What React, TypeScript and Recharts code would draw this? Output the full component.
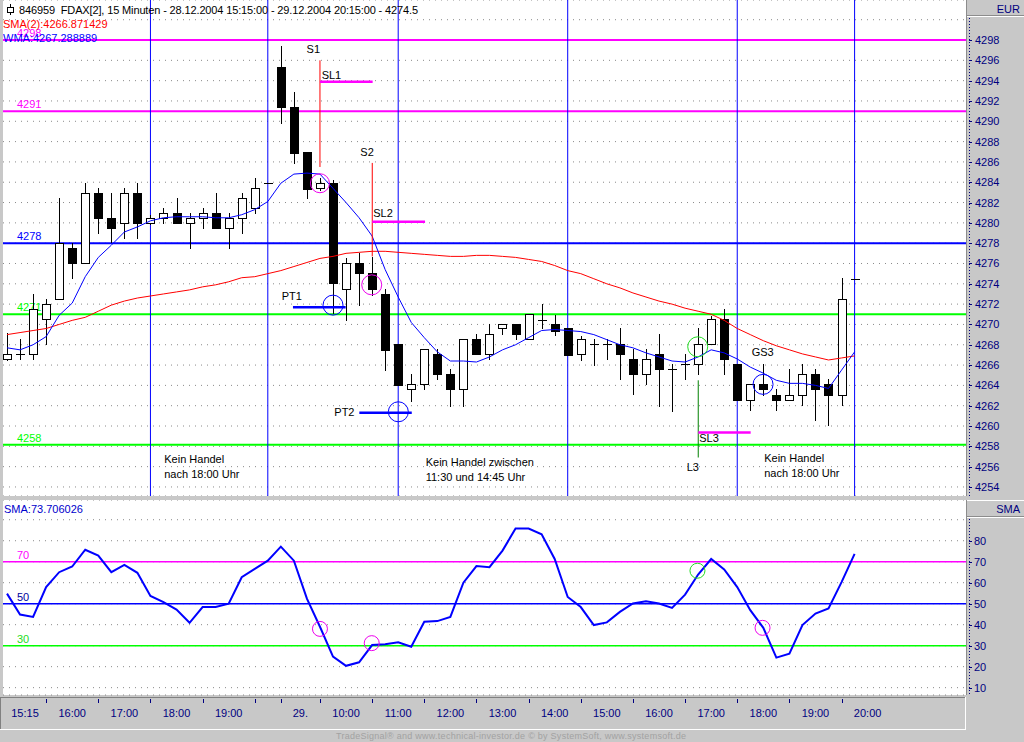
import React from 'react';
import {
  ComposedChart,
  Bar,
  Line,
  XAxis,
  YAxis,
  CartesianGrid,
  ReferenceLine,
  ReferenceDot,
} from 'recharts';

// ---------- data ----------
const opens = [
  4266.6, 4267.1, 4267.1, 4270.5, 4272.5, 4277.5, 4276.0, 4282.9, 4280.5, 4280.0,
  4282.9, 4280.0, 4280.5, 4281.0, 4280.0, 4280.5, 4281.0, 4279.5, 4280.5, 4281.5,
  4283.9, 4295.3, 4291.4, 4287.0, 4283.4, 4283.9, 4273.5, 4276.0, 4275.1, 4273.0,
  4268.1, 4263.6, 4264.1, 4267.1, 4265.1, 4263.6, 4268.6, 4267.1, 4269.6, 4270.0,
  4268.6, 4270.4, 4270.0, 4269.6, 4267.1, 4268.1, 4268.1, 4268.1, 4266.6, 4265.1,
  4267.1, 4265.6, 4266.1, 4266.1, 4268.1, 4270.5, 4266.1, 4262.6, 4264.1, 4263.1,
  4262.6, 4263.1, 4265.1, 4264.1, 4263.1, 4274.5,
];
const highs = [
  4269.2, 4268.6, 4273.0, 4272.5, 4282.4, 4278.0, 4283.9, 4283.4, 4282.9, 4283.4,
  4283.9, 4280.8, 4281.5, 4282.4, 4281.0, 4281.5, 4282.9, 4281.0, 4282.9, 4284.4,
  4283.9, 4297.4, 4292.9, 4287.0, 4284.4, 4284.2, 4276.5, 4277.0, 4276.6, 4273.5,
  4268.1, 4265.1, 4267.6, 4267.6, 4265.6, 4268.6, 4269.1, 4270.0, 4270.0, 4270.0,
  4271.0, 4272.0, 4270.9, 4269.6, 4268.9, 4268.6, 4268.6, 4269.6, 4267.6, 4267.6,
  4269.1, 4266.1, 4267.1, 4269.6, 4270.8, 4271.5, 4266.1, 4264.1, 4266.1, 4263.6,
  4265.6, 4266.1, 4265.6, 4264.6, 4274.6, 4274.5,
];
const lows = [
  4266.5, 4266.6, 4266.6, 4268.1, 4272.5, 4274.6, 4276.0, 4279.0, 4278.1, 4278.5,
  4278.5, 4279.9, 4280.0, 4280.0, 4277.5, 4279.5, 4279.5, 4277.5, 4279.0, 4281.0,
  4283.9, 4289.8, 4285.9, 4282.4, 4283.2, 4271.1, 4270.4, 4271.9, 4272.9, 4265.5,
  4264.0, 4262.5, 4263.6, 4264.6, 4262.0, 4262.0, 4267.1, 4266.6, 4269.1, 4268.6,
  4268.6, 4269.6, 4269.0, 4267.0, 4266.5, 4266.0, 4266.6, 4264.6, 4263.2, 4264.1,
  4262.0, 4261.5, 4264.6, 4265.1, 4268.1, 4265.1, 4262.6, 4261.6, 4263.1, 4261.6,
  4262.6, 4262.1, 4260.6, 4260.1, 4262.1, 4274.5,
];
const closes = [
  4267.1, 4267.1, 4271.5, 4272.0, 4278.0, 4276.0, 4282.9, 4280.5, 4279.5, 4282.9,
  4280.0, 4280.5, 4281.0, 4280.0, 4280.5, 4281.0, 4279.5, 4280.5, 4282.4, 4283.4,
  4283.9, 4291.4, 4286.9, 4283.3, 4283.9, 4274.1, 4276.0, 4275.1, 4273.5, 4267.5,
  4264.0, 4264.1, 4267.6, 4265.1, 4263.6, 4268.6, 4267.1, 4269.1, 4270.0, 4269.1,
  4271.0, 4270.4, 4269.4, 4267.0, 4268.6, 4268.1, 4268.1, 4267.1, 4265.1, 4266.6,
  4265.6, 4265.6, 4266.1, 4268.1, 4270.5, 4266.6, 4262.6, 4264.1, 4263.6, 4262.6,
  4263.1, 4265.1, 4263.6, 4263.1, 4272.5, 4274.5,
];
const smaValues = [
  4269.0, 4269.2, 4269.4, 4269.6, 4270.0, 4270.4, 4270.7, 4271.3, 4271.9, 4272.3,
  4272.6, 4272.8, 4273.0, 4273.2, 4273.4, 4273.7, 4273.9, 4274.2, 4274.6, 4274.7,
  4275.0, 4275.3, 4275.7, 4276.1, 4276.5, 4276.7, 4277.0, 4277.1, 4277.2, 4277.2,
  4277.1, 4277.0, 4276.9, 4276.8, 4276.7, 4276.7, 4276.8, 4276.8, 4276.7, 4276.6,
  4276.4, 4276.2, 4275.8, 4275.3, 4275.0, 4274.5, 4274.0, 4273.6, 4273.1, 4272.7,
  4272.3, 4272.0, 4271.6, 4271.3, 4271.0, 4270.4, 4269.6, 4269.0, 4268.4, 4267.9,
  4267.5, 4267.1, 4266.8, 4266.5, 4266.7, 4266.9,
];
const wmaValues = [
  4267.7, 4267.5, 4268.0, 4268.8, 4270.9, 4272.1, 4274.7, 4276.6, 4277.8, 4279.1,
  4279.6, 4280.2, 4280.5, 4280.6, 4280.6, 4280.6, 4280.5, 4280.5, 4280.8, 4281.3,
  4282.1, 4283.9, 4284.8, 4284.9, 4284.8, 4283.4, 4282.0, 4280.5, 4278.7, 4275.4,
  4272.7, 4270.2, 4268.7, 4267.3, 4266.4, 4266.4, 4266.3, 4266.8, 4267.5, 4268.0,
  4268.7, 4269.4, 4269.5, 4269.4, 4269.3, 4269.0, 4268.5, 4268.0, 4267.7, 4267.2,
  4266.8, 4266.4, 4266.3, 4266.8, 4267.5, 4267.2, 4266.6, 4265.8, 4265.2, 4264.5,
  4264.2, 4264.2, 4264.0, 4263.7, 4265.5, 4267.3,
];
const oscValues = [
  54.8, 44.8, 43.7, 57.9, 65.0, 67.7, 75.7, 72.9, 65.0, 68.5,
  64.7, 53.7, 50.8, 47.2, 40.9, 48.4, 48.4, 50.0, 62.6, 66.6,
  70.5, 77.2, 70.5, 52.4, 39.0, 24.8, 20.4, 22.1, 30.3, 30.7,
  31.6, 29.5, 41.4, 41.7, 43.7, 60.0, 67.9, 67.4, 75.3, 85.8,
  85.8, 83.1, 71.3, 53.2, 48.4, 39.8, 41.1, 46.1, 50.1, 51.1,
  50.1, 48.0, 54.3, 63.9, 71.3, 66.3, 57.9, 46.9, 38.5, 24.3,
  26.2, 39.8, 45.3, 47.7, 60.3, 73.7,
];

const priceTicks = [
  4254, 4256, 4258, 4260, 4262, 4264, 4266, 4268, 4270, 4272, 4274, 4276,
  4278, 4280, 4282, 4284, 4286, 4288, 4290, 4292, 4294, 4296, 4298, 4300,
];
const oscTicks = [10, 20, 30, 40, 50, 60, 70, 80, 90];

const timeTickIndexes = [3, 7, 11, 15, 19, 21, 24, 28, 32, 36, 40, 44, 48, 52, 56, 60, 64];
const timeLabels = [
  '15:15', '16:00', '17:00', '18:00', '19:00', '29.', '10:00', '11:00', '12:00',
  '13:00', '14:00', '15:00', '16:00', '17:00', '18:00', '19:00', '20:00',
];
const timeLabelPositions = [1.38, 5, 9, 13, 17, 22.5, 26, 30, 34, 38, 42, 46, 50, 54, 58, 62, 66];

const levelValues = [4298, 4291, 4278, 4271, 4258.15];
const levelTexts = ['4298', '4291', '4278', '4271', '4258'];
const oscLevelValues = [70, 50, 30];
const oscLevelTexts = ['70', '50', '30'];
const sessionBreaks = [11, 20, 30, 43, 56, 65];

// signal segments: [x1, y1, x2, y2]
const signalSegments = [
  [24.0, 4296.0, 24.0, 4285.5],
  [24.0, 4293.9, 28.04, 4293.9],
  [28.01, 4285.9, 28.01, 4276.7],
  [28.01, 4280.1, 32.06, 4280.1],
  [21.93, 4271.7, 25.97, 4271.7],
  [27.02, 4261.3, 31.04, 4261.3],
  [53.01, 4264.5, 53.01, 4256.9],
  [53.01, 4259.35, 57.03, 4259.35],
];
const signalKinds = ['entry', 'stop', 'entry', 'stop', 'target', 'target', 'long', 'stop'];

const markerX = [24.0, 27.97, 25.0, 30.01, 52.97, 57.98];
const markerY = [4283.9, 4273.9, 4271.9, 4261.4, 4267.8, 4264.1];
const markerKinds = ['short', 'short', 'target', 'target', 'long', 'target'];

const oscMarkerX = [24.0, 27.97, 52.95, 57.94];
const oscMarkerY = [38.0, 31.2, 65.7, 38.5];
const oscMarkerKinds = ['short', 'short', 'long', 'short'];

const noteTexts = [
  'S1', 'SL1', 'S2', 'SL2', 'PT1', 'PT2', 'L3', 'SL3', 'GS3',
  'Kein Handel', 'nach 18:00 Uhr', 'Kein Handel zwischen', '11:30 und 14:45 Uhr',
  'Kein Handel', 'nach 18:00 Uhr',
];
const noteX = [23.49, 24.13, 27.61, 28.09, 21.07, 25.1, 52.12, 53.09, 57.11, 12.06, 12.06, 32.11, 32.11, 58.07, 58.07];
const noteY = [4296.7, 4294.2, 4286.6, 4280.6, 4272.4, 4261.0, 4255.6, 4258.4, 4266.9, 4256.4, 4254.9, 4256.1, 4254.6, 4256.5, 4255.0];

// ---------- styles ----------
const FONT = '"Liberation Sans", Arial, Helvetica, sans-serif';
const NAVY = '#000080';
const MAGENTA = '#ff00ff';
const BLUE = '#0000ff';
const GREEN = '#00ff00';
const levelColors = [MAGENTA, MAGENTA, BLUE, GREEN, GREEN];
const oscLevelColors = [MAGENTA, BLUE, GREEN];
const oscLevelTextColors = [MAGENTA, '#00009c', '#22dd22'];
const kindColor: Record<string, string> = {
  entry: '#ff0000',
  stop: MAGENTA,
  target: BLUE,
  long: '#008000',
  short: '#ee00ee',
};
const X_DOMAIN: [number, number] = [-0.307, 73.62];

// ---------- shapes ----------
const CandleShape = (props: any) => {
  const { x, y, width, height, payload } = props;
  if (!payload || x == null || y == null) return <g />;
  const { open, close, high, low } = payload;
  const cx = Math.round(x + width / 2);
  const span = high - low;
  const h = height || 0;
  const toY = (v: number) => (span > 0 ? y + ((high - v) / span) * h : y);
  const yo = toY(open);
  const yc = toY(close);
  const yh = toY(high);
  const yl = toY(low);
  const up = close >= open;
  const top = Math.round(Math.min(yo, yc)) + 0.5;
  const bot = Math.round(Math.max(yo, yc)) + 0.5;
  const doji = Math.abs(open - close) < 0.15;
  return (
    <g shapeRendering="crispEdges">
      {span > 0 && (
        <line x1={cx + 0.5} x2={cx + 0.5} y1={Math.round(yh)} y2={Math.round(yl) + 1} stroke="#000" strokeWidth={1} />
      )}
      {doji ? (
        <line x1={cx - 4} x2={cx + 5} y1={Math.round(yo) + 0.5} y2={Math.round(yo) + 0.5} stroke="#000" strokeWidth={1} />
      ) : (
        <rect x={cx - 3.5} y={top} width={8} height={Math.max(bot - top, 1)} fill={up ? '#ffffff' : '#000000'} stroke="#000" strokeWidth={1} />
      )}
    </g>
  );
};

const PriceTick = (props: any) => {
  const { x, y, payload } = props;
  if (!payload || payload.value > 4298) return <g />;
  return (
    <g>
      <line x1={x + 2} x2={x + 5} y1={Math.round(y) + 0.5} y2={Math.round(y) + 0.5} stroke={NAVY} />
      <text x={x + 8} y={y} dy="0.36em" fill={NAVY} fontSize={11} fontFamily={FONT}>
        {payload.value}
      </text>
    </g>
  );
};

const OscTick = (props: any) => {
  const { x, y, payload } = props;
  if (!payload || payload.value > 80) return <g />;
  return (
    <g>
      <line x1={x + 2} x2={x + 5} y1={Math.round(y) + 0.5} y2={Math.round(y) + 0.5} stroke={NAVY} />
      <text x={x + 7} y={y} dy="0.36em" fill={NAVY} fontSize={11} fontFamily={FONT}>
        {payload.value}
      </text>
    </g>
  );
};

const TimeTick = (props: any) => {
  const { x, y, payload } = props;
  if (!payload) return <g />;
  const v = payload.value;
  const ti = timeTickIndexes.indexOf(v);
  if (ti >= 0) {
    const px = Math.round(x) + 0.5;
    return <line x1={px} x2={px} y1={y + 4} y2={y + 8} stroke={NAVY} />;
  }
  const li = timeLabelPositions.indexOf(v);
  if (li >= 0) {
    return (
      <text x={x} y={y + 21.5} textAnchor="middle" fill={NAVY} fontSize={11} fontFamily={FONT}>
        {timeLabels[li]}
      </text>
    );
  }
  return <g />;
};

const LevelLabel = (props: any) => {
  const { viewBox, text, color } = props;
  if (!viewBox) return <g />;
  return (
    <text x={viewBox.x + 14} y={viewBox.y - 3} fill={color} fontSize={11} fontFamily={FONT}>
      {text}
    </text>
  );
};

export default function App() {
  const mainData = opens.map((open, i) => ({
    i,
    open,
    high: highs[i],
    low: lows[i],
    close: closes[i],
    sma: smaValues[i],
    wma: wmaValues[i],
  }));
  const oscData = oscValues.map((osc, i) => ({ i, osc }));
  const centeredNotes = [0, 2];

  return (
    <div
      style={{
        position: 'relative',
        width: 1024,
        height: 742,
        background: '#c8c8c8',
        overflow: 'hidden',
        fontFamily: FONT,
      }}
    >
      <style>{'body{margin:0;padding:0;}'}</style>

      <div style={{ position: 'absolute', left: 0, top: 0 }}>
        <ComposedChart width={1024} height={496} data={mainData} margin={{ top: 0, right: 0, bottom: 0, left: 3 }}>
          <CartesianGrid vertical={false} stroke="#8a8a8a" strokeDasharray="1 5" fill="#ffffff" />
          <XAxis dataKey="i" type="number" domain={X_DOMAIN} allowDataOverflow hide />
          <YAxis
            orientation="right"
            width={57}
            domain={[4253.11, 4301.94]}
            allowDataOverflow
            ticks={priceTicks}
            interval={0}
            tick={<PriceTick />}
            axisLine={false}
            tickLine={false}
            tickSize={0}
            tickMargin={0}
          />
          {levelValues.map((v, k) => (
            <ReferenceLine
              key={'lv' + k}
              y={v}
              stroke={levelColors[k]}
              strokeWidth={2}
              zIndex={100}
              label={<LevelLabel text={levelTexts[k]} color={levelColors[k]} />}
            />
          ))}
          {sessionBreaks.map((x, k) => (
            <ReferenceLine key={'sb' + k} x={x} stroke={BLUE} strokeWidth={1} zIndex={150} />
          ))}
          <Bar
            dataKey={(d: any) => [d.low, d.high]}
            barSize={9}
            shape={<CandleShape />}
            isAnimationActive={false}
            zIndex={300}
          />
          <Line type="linear" dataKey="sma" stroke="#ff0000" strokeWidth={1} dot={false} activeDot={false} isAnimationActive={false} zIndex={400} />
          <Line type="linear" dataKey="wma" stroke={BLUE} strokeWidth={1} dot={false} activeDot={false} isAnimationActive={false} zIndex={400} />
          {signalSegments.map((s, k) => (
            <ReferenceLine
              key={'sg' + k}
              segment={[
                { x: s[0], y: s[1] },
                { x: s[2], y: s[3] },
              ]}
              stroke={kindColor[signalKinds[k]]}
              strokeWidth={signalKinds[k] === 'stop' || signalKinds[k] === 'target' ? 2.5 : 1}
              ifOverflow="visible"
              zIndex={500}
            />
          ))}
          {markerX.map((x, k) => (
            <ReferenceDot
              key={'mk' + k}
              x={x}
              y={markerY[k]}
              r={k === 0 ? 9.5 : 10}
              fill="none"
              stroke={markerKinds[k] === 'long' ? '#22dd22' : kindColor[markerKinds[k]]}
              strokeWidth={1}
              ifOverflow="visible"
              zIndex={600}
            />
          ))}
          {noteTexts.map((t, k) => (
            <ReferenceDot
              key={'nt' + k}
              x={noteX[k]}
              y={noteY[k]}
              r={0}
              ifOverflow="visible"
              zIndex={700}
              shape={(p: any) => (
                <text
                  x={p.cx}
                  y={p.cy}
                  textAnchor={centeredNotes.includes(k) ? 'middle' : 'start'}
                  fill="#000"
                  fontSize={11}
                  fontFamily={FONT}
                >
                  {t}
                </text>
              )}
            />
          ))}
        </ComposedChart>
      </div>

      <div style={{ position: 'absolute', left: 0, top: 500 }}>
        <ComposedChart width={1024} height={230} data={oscData} margin={{ top: 0, right: 0, bottom: 0, left: 3 }}>
          <CartesianGrid vertical={false} stroke="#8a8a8a" strokeDasharray="1 5" fill="#ffffff" />
          <XAxis
            dataKey="i"
            type="number"
            domain={X_DOMAIN}
            allowDataOverflow
            height={35}
            ticks={[...timeTickIndexes, ...timeLabelPositions]}
            interval={0}
            tick={<TimeTick />}
            axisLine={false}
            tickLine={false}
            tickSize={0}
            tickMargin={0}
          />
          <YAxis
            orientation="right"
            width={57}
            domain={[6.5, 99.4]}
            allowDataOverflow
            ticks={oscTicks}
            interval={0}
            tick={<OscTick />}
            axisLine={false}
            tickLine={false}
            tickSize={0}
            tickMargin={0}
          />
          {oscLevelValues.map((v, k) => (
            <ReferenceLine
              key={'ol' + k}
              y={v}
              stroke={oscLevelColors[k]}
              strokeWidth={1.5}
              zIndex={100}
              label={<LevelLabel text={oscLevelTexts[k]} color={oscLevelTextColors[k]} />}
            />
          ))}
          <Line type="linear" dataKey="osc" stroke={BLUE} strokeWidth={2} dot={false} activeDot={false} isAnimationActive={false} zIndex={400} />
          {oscMarkerX.map((x, k) => (
            <ReferenceDot
              key={'om' + k}
              x={x}
              y={oscMarkerY[k]}
              r={7.5}
              fill="none"
              stroke={oscMarkerKinds[k] === 'long' ? '#22dd22' : kindColor[oscMarkerKinds[k]]}
              strokeWidth={1}
              ifOverflow="visible"
              zIndex={600}
            />
          ))}
        </ComposedChart>
      </div>

      <svg
        width={1024}
        height={742}
        style={{ position: 'absolute', left: 0, top: 0, pointerEvents: 'none' }}
        fontFamily={FONT}
      >
        {/* header */}
        <line x1={10.5} x2={10.5} y1={4} y2={15} stroke="#000" shapeRendering="crispEdges" />
        <rect x={7.5} y={7.5} width={6} height={5} fill="#fff" stroke="#000" shapeRendering="crispEdges" />
        <text x={19} y={14} fontSize={11} fill="#000" style={{ whiteSpace: 'pre' }} textLength={399} lengthAdjust="spacing">
          {'846959  FDAX[2], 15 Minuten - 28.12.2004 15:15:00 - 29.12.2004 20:15:00 - 4274.5'}
        </text>
        <text x={3} y={28} fontSize={11} fill="#ff0000">SMA(2):4266.871429</text>
        <text x={3} y={42} fontSize={11} fill={BLUE}>WMA:4267.288889</text>

        {/* right axis frame */}
        <line x1={966.5} x2={966.5} y1={0} y2={496} stroke="#8c8c8c" />
        <line x1={966.5} x2={966.5} y1={500} y2={695} stroke="#8c8c8c" />
        <line x1={967} x2={1024} y1={15.5} y2={15.5} stroke="#8c8c8c" />
        <line x1={967} x2={1024} y1={16.5} y2={16.5} stroke="#ffffff" />
        <text x={1020} y={13} fontSize={11} fill={NAVY} textAnchor="end">EUR</text>
        <line x1={967} x2={1024} y1={500.5} y2={500.5} stroke="#ffffff" />
        <line x1={967} x2={1024} y1={516.5} y2={516.5} stroke="#8c8c8c" />
        <line x1={967} x2={1024} y1={517.5} y2={517.5} stroke="#ffffff" />
        <text x={1020} y={512.5} fontSize={11} fill={NAVY} textAnchor="end">SMA</text>
        <line x1={969.5} x2={969.5} y1={18} y2={496} stroke={NAVY} strokeDasharray="1 2" />
        <line x1={969.5} x2={969.5} y1={519} y2={695} stroke={NAVY} strokeDasharray="1 2" />

        {/* lower panel title */}
        <text x={4} y={513} fontSize={11} fill="#0000cc">SMA:73.706026</text>

        {/* time axis frame */}
        <line x1={0} x2={966} y1={697.5} y2={697.5} stroke="#808080" />
        <line x1={0.5} x2={0.5} y1={697} y2={729} stroke="#808080" />
        <line x1={0} x2={966} y1={729.5} y2={729.5} stroke="#ffffff" />
        <line x1={965.5} x2={965.5} y1={697} y2={730} stroke="#ffffff" />

        {/* footer */}
        <text x={336} y={739} fontSize={9} fill="#a2a2a2" textLength={350} lengthAdjust="spacing">
          TradeSignal® and www.technical-investor.de © by SystemSoft, www.systemsoft.de
        </text>
      </svg>
    </div>
  );
}
